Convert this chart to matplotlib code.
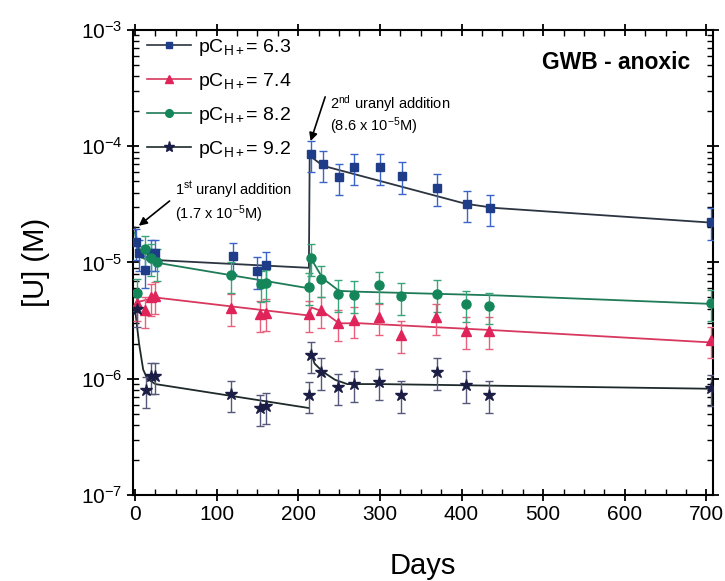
import numpy as np
import matplotlib
matplotlib.use("Agg")
import matplotlib.pyplot as plt
from matplotlib.ticker import MultipleLocator, LogLocator, NullFormatter
from matplotlib.lines import Line2D

plt.rcParams["font.family"] = ["Liberation Sans", "DejaVu Sans"]
plt.rcParams["mathtext.fontset"] = "custom"
plt.rcParams["mathtext.rm"] = "Liberation Sans"
plt.rcParams["mathtext.it"] = "Liberation Sans:italic"
plt.rcParams["mathtext.bf"] = "Liberation Sans:bold"

# ---------------- data ----------------
labels = [r"pC$_{\mathrm{H+}}$= 6.3", r"pC$_{\mathrm{H+}}$= 7.4",
          r"pC$_{\mathrm{H+}}$= 8.2", r"pC$_{\mathrm{H+}}$= 9.2"]

days_63 = [1, 5, 12, 20, 25, 120, 150, 160, 215, 230, 250, 268, 300, 327, 370, 407, 435, 705]
u_63 = [1.5e-5, 1.2e-5, 8.7e-6, 1.2e-5, 1.2e-5, 1.13e-5, 8.5e-6, 9.5e-6, 8.5e-5, 7.0e-5,
        5.4e-5, 6.6e-5, 6.6e-5, 5.6e-5, 4.4e-5, 3.2e-5, 2.95e-5, 2.25e-5]

days_74 = [2, 12, 20, 25, 118, 153, 161, 213, 228, 249, 268, 299, 326, 369, 406, 434, 705]
u_74 = [4.5e-6, 3.9e-6, 5.0e-6, 5.2e-6, 4.1e-6, 3.6e-6, 3.7e-6, 3.6e-6, 3.9e-6, 3.0e-6,
        3.2e-6, 3.4e-6, 2.4e-6, 3.4e-6, 2.6e-6, 2.6e-6, 2.15e-6]

days_82 = [2, 12, 20, 27, 118, 154, 161, 213, 215, 228, 249, 268, 299, 326, 370, 406, 434, 705]
u_82 = [5.5e-6, 1.3e-5, 1.1e-5, 1.0e-5, 7.8e-6, 6.5e-6, 6.6e-6, 6.2e-6, 1.1e-5, 7.2e-6,
        5.4e-6, 5.3e-6, 6.4e-6, 5.1e-6, 5.4e-6, 4.4e-6, 4.2e-6, 4.5e-6]

days_92 = [2, 13, 20, 25, 118, 153, 160, 213, 215, 228, 249, 268, 299, 326, 370, 406, 434, 705]
u_92 = [4.0e-6, 8.0e-7, 1.05e-6, 1.05e-6, 7.4e-7, 5.6e-7, 5.8e-7, 7.2e-7, 1.6e-6, 1.15e-6,
        8.5e-7, 9.0e-7, 9.3e-7, 7.3e-7, 1.15e-6, 8.9e-7, 7.3e-7, 8.3e-7]

rel_err = 0.3

# fitted curves
fit_days_63 = [0, 3, 8, 25, 213, 214, 230, 405, 440, 707]
fit_u_63 = [2.0e-5, 1.4e-5, 1.15e-5, 1.05e-5, 9.0e-6, 8.3e-5, 6.8e-5, 3.2e-5, 2.95e-5, 2.2e-5]

fit_days_74 = [0, 5, 25, 213, 216, 230, 250, 276, 447, 707]
fit_u_74 = [4.0e-6, 4.6e-6, 5.0e-6, 3.5e-6, 4.1e-6, 3.8e-6, 3.0e-6, 3.0e-6, 2.6e-6, 2.05e-6]

fit_days_82 = [0, 3, 8, 25, 213, 215, 230, 250, 276, 447, 707]
fit_u_82 = [1.8e-5, 1.3e-5, 1.1e-5, 1.0e-5, 6.0e-6, 1.1e-5, 7.3e-6, 5.7e-6, 5.6e-6, 5.2e-6, 4.4e-6]

fit_days_92 = [0, 5, 10, 15, 25, 213, 213.5, 215, 220, 230, 245, 260, 300, 707]
fit_u_92 = [4.0e-6, 2.0e-6, 1.2e-6, 1.0e-6, 9.0e-7, 5.6e-7, np.nan, 1.7e-6, 1.35e-6, 1.15e-6,
            9.8e-7, 9.0e-7, 9.0e-7, 8.2e-7]

# ---------------- style ----------------
series = [
    (days_63, u_63, fit_days_63, fit_u_63, "s", "#1f3c88", "#3a64c8", "#2b3440", 6),
    (days_74, u_74, fit_days_74, fit_u_74, "^", "#e0245a", "#e8607e", "#d8375e", 7),
    (days_82, u_82, fit_days_82, fit_u_82, "o", "#14865a", "#3aa47a", "#1f7a58", 6.5),
    (days_92, u_92, fit_days_92, fit_u_92, "*", "#1b1d45", "#55587a", "#1e2a2a", 9),
]

fig = plt.figure(figsize=(7.25, 5.81), dpi=100)
ax = fig.add_axes([0.1834, 0.148, 0.80, 0.8004])

handles = []
for d, u, fd, fu, m, mc, ec, lc, ms in series:
    d = np.asarray(d, float)
    u = np.asarray(u, float)
    ax.plot(fd, fu, color=lc, lw=1.3, zorder=2)
    ax.errorbar(d, u, yerr=rel_err * u, fmt="none", ecolor=ec, elinewidth=1.0,
                capsize=3, capthick=1.0, zorder=3)
    ax.plot(d, u, linestyle="none", marker=m, ms=ms, mfc=mc, mec=mc, zorder=4)
    handles.append(Line2D([], [], color=lc, lw=1.2, marker=m, ms=ms - 1, mfc=mc, mec=mc))

ax.set_yscale("log")
ax.set_ylim(1e-7, 1e-3)
ax.set_xlim(-2.5, 708)

ax.xaxis.set_major_locator(MultipleLocator(100))
ax.xaxis.set_minor_locator(MultipleLocator(25))
ax.yaxis.set_major_locator(LogLocator(base=10, numticks=10))
ax.yaxis.set_minor_locator(LogLocator(base=10, subs=np.arange(2, 10), numticks=20))
ax.yaxis.set_minor_formatter(NullFormatter())

ax.tick_params(which="major", direction="inout", length=8, width=1.3, labelsize=15,
               top=True, right=True)
ax.tick_params(which="minor", direction="in", length=4, width=1.0, top=True, right=True)
for s in ax.spines.values():
    s.set_linewidth(1.5)

ax.set_xlabel("Days", fontsize=21, labelpad=20)
ax.set_ylabel("[U] (M)", fontsize=21, labelpad=22)

leg = ax.legend(handles, labels, loc="upper left", frameon=False, fontsize=14,
                handlelength=2.3, handletextpad=0.35, labelspacing=0.68,
                borderaxespad=0.3, bbox_to_anchor=(0.0, 1.015))

ax.text(0.96, 0.93, "GWB - anoxic", transform=ax.transAxes, ha="right", va="center",
        fontsize=16.5, fontweight="bold")

ax.annotate("", xy=(2, 2.0e-5), xytext=(45, 3.5e-5),
            arrowprops=dict(arrowstyle="-|>", color="black", lw=1.2, mutation_scale=12))
ax.text(49, 4.2e-5, r"1$^{\mathrm{st}}$ uranyl addition", fontsize=10.5, va="center")
ax.text(49, 2.6e-5, "(1.7 x 10$^{-5}$M)", fontsize=10.5, va="center")

ax.annotate("", xy=(214, 1.05e-4), xytext=(234, 2.8e-4),
            arrowprops=dict(arrowstyle="-|>", color="black", lw=1.2, mutation_scale=12))
ax.text(239, 2.35e-4, r"2$^{\mathrm{nd}}$ uranyl addition", fontsize=10.5, va="center")
ax.text(239, 1.5e-4, "(8.6 x 10$^{-5}$M)", fontsize=10.5, va="center")

fig.savefig("out.png", dpi=100)
